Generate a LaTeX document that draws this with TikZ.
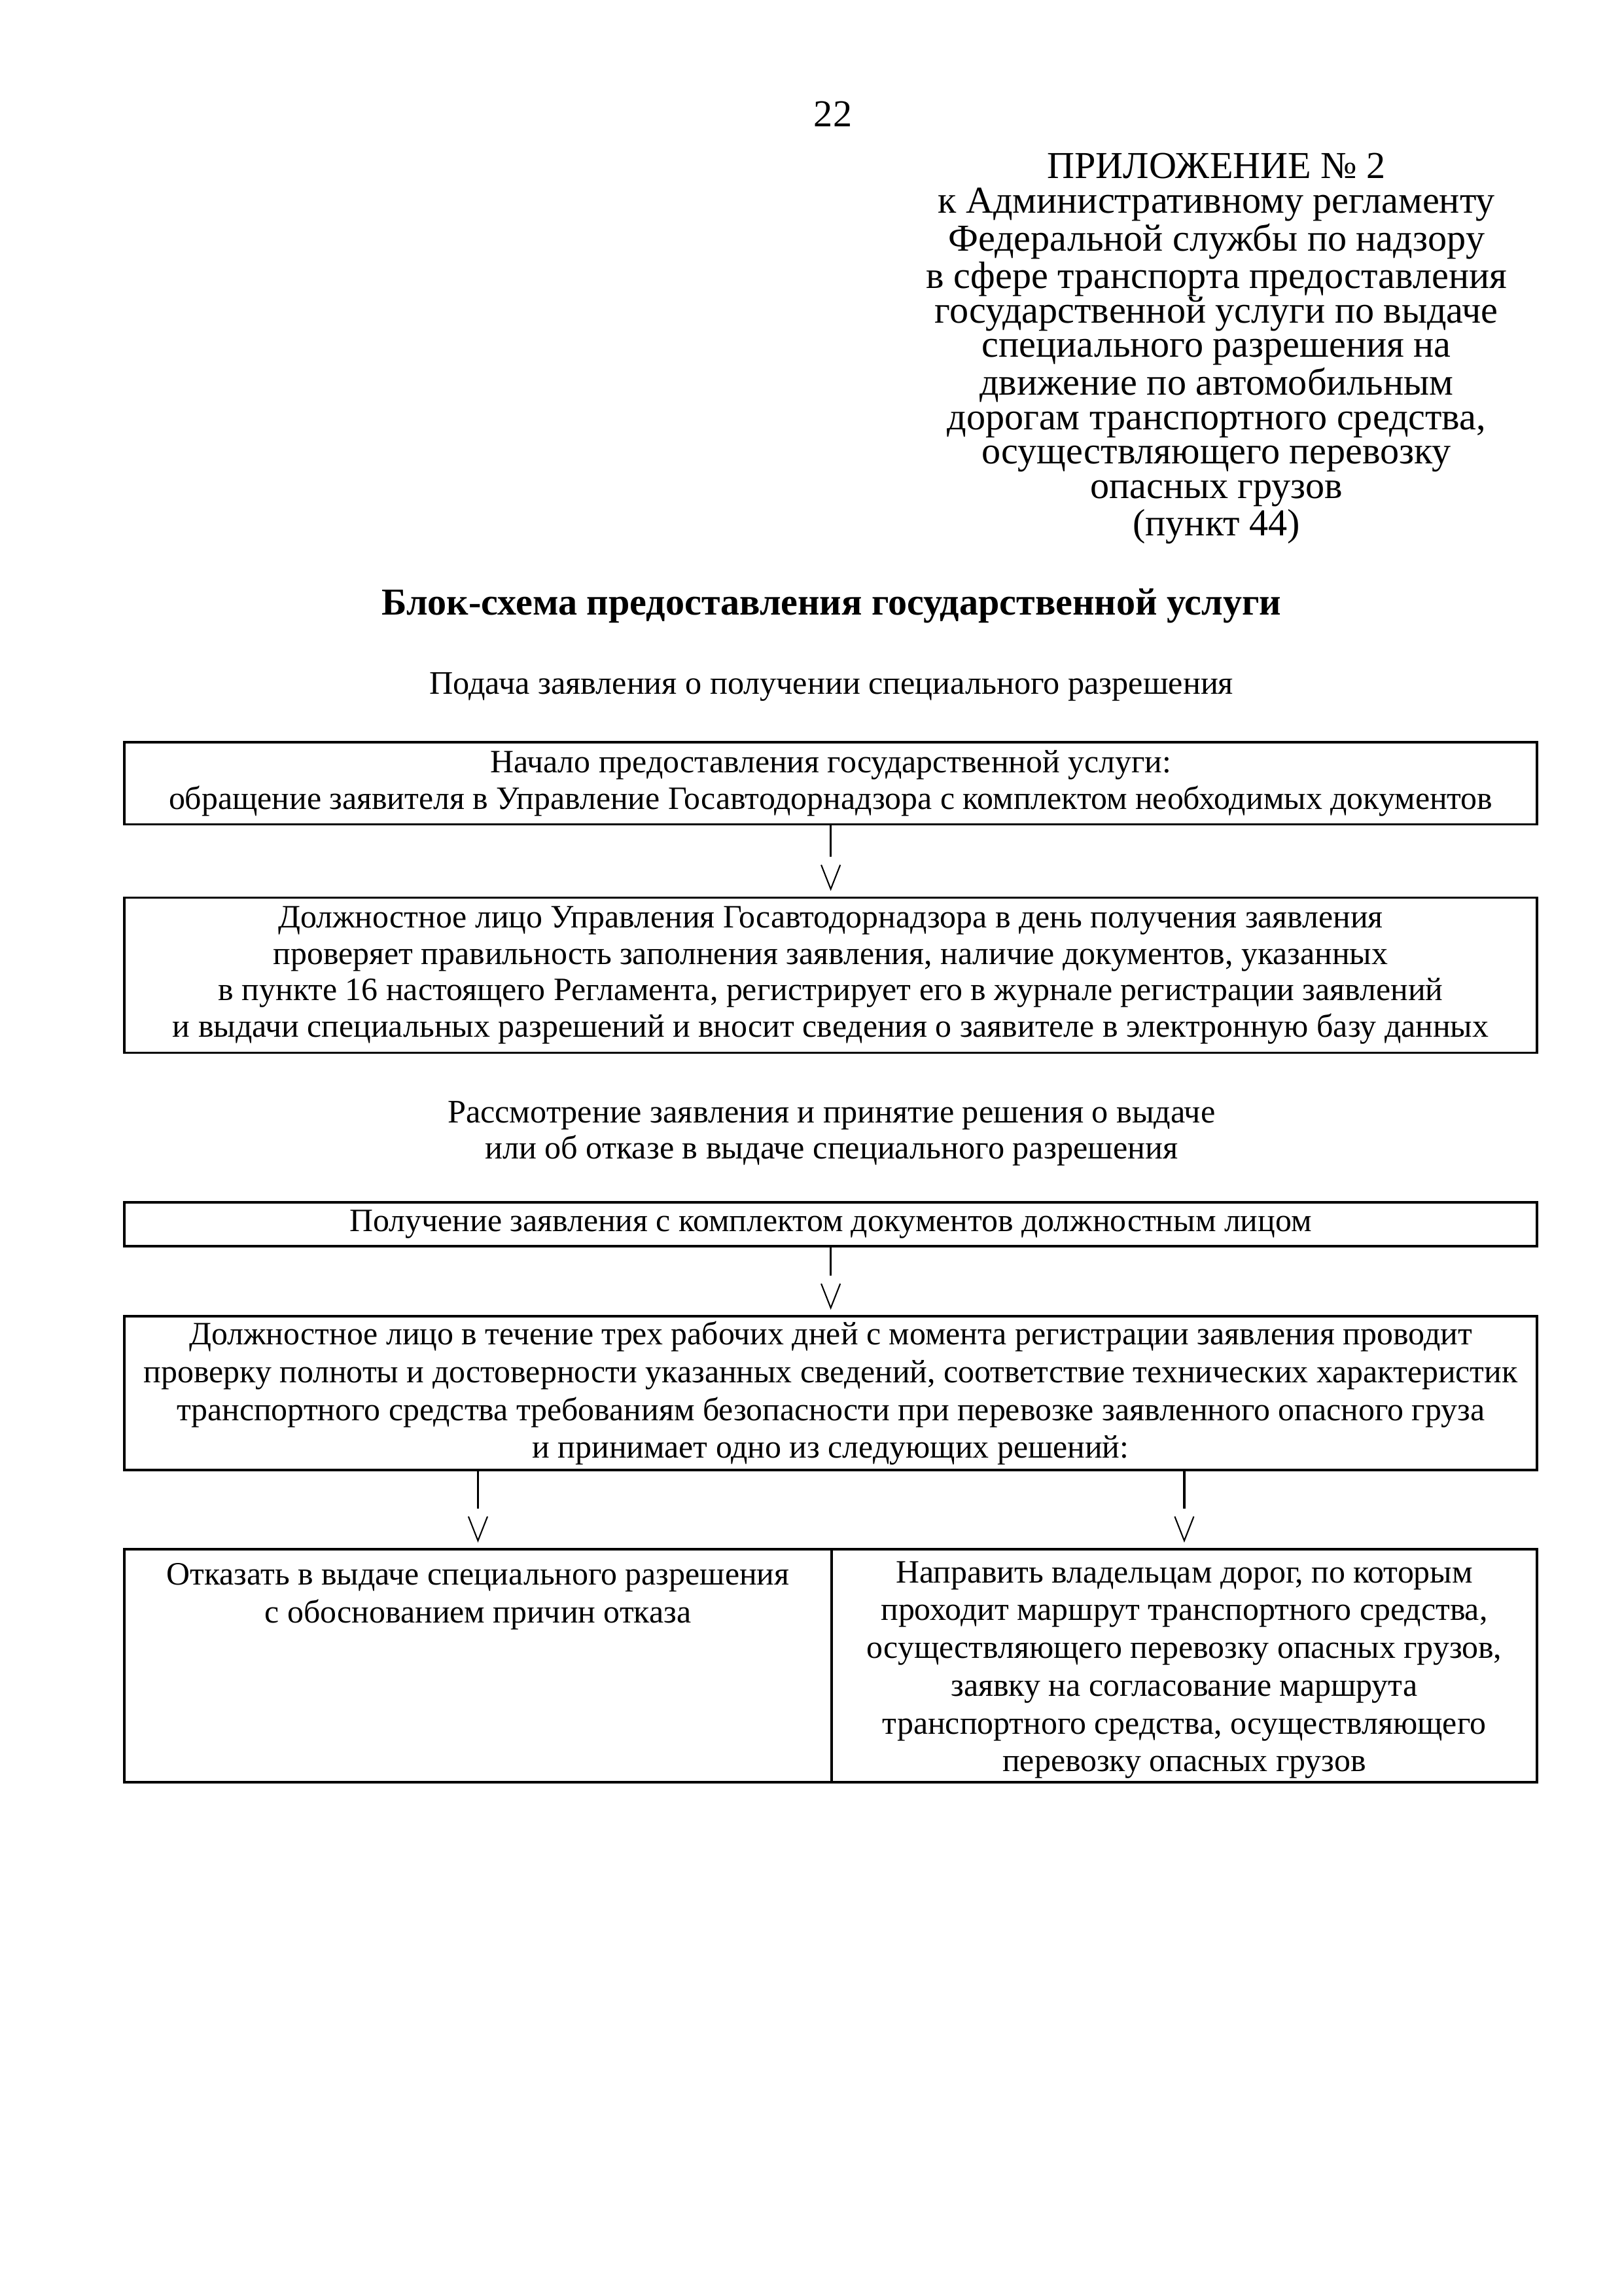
\documentclass[tikz,border=0pt]{standalone}
\usepackage{fontspec}
\setmainfont{Liberation Serif}
\usetikzlibrary{calc}
\tikzset{
  box/.style={draw, line width=0.9pt, minimum width=182.74mm, inner sep=0pt, align=center, font=\fontsize{12}{13.4}\selectfont},
  halfbox/.style={draw, line width=0.9pt, inner sep=0pt, minimum height=30.11mm},
  plain/.style={inner sep=0pt, align=center, font=\fontsize{12.1}{13.2}\selectfont},
  conn/.style={line width=0.8pt},
  vtip/.style={line width=0.5pt},
}
\newcommand\vlink[2]{%
  \draw[conn] (#1.south -| #2.north) -- ($(#2.north)+(0,-27)$);
  \draw[vtip] ($(#2.north)+(-6.5,-21.5)$) -- ($(#2.north)+(0,-5)$) -- ($(#2.north)+(6.5,-21.5)$);
}
\begin{document}
\begin{tikzpicture}[x=0.18936mm, y=-0.18936mm]
\useasboundingbox (0,0) rectangle (1109,1568);
\fill[white] (0,0) rectangle (1109,1568);

\node[inner sep=0pt, font=\fontsize{14}{14}\selectfont] (pnum) at (569,78) {22};

\node[inner sep=0pt, align=center, font=\fontsize{14}{12.65}\selectfont] (head) at (831,238) {%
ПРИЛОЖЕНИЕ № 2\\
к Административному регламенту\\
Федеральной службы по надзору\\
в сфере транспорта предоставления\\
государственной услуги по выдаче\\
специального разрешения на\\
движение по автомобильным\\
дорогам транспортного средства,\\
осуществляющего перевозку\\
опасных грузов\\
(пункт 44)};

\node[inner sep=0pt, font=\bfseries\fontsize{14}{14}\selectfont] (title) at (568,414) {Блок-схема предоставления государственной услуги};

\node[plain] (stage1) at (568,469) {Подача заявления о получении специального разрешения};

\node[box, minimum height=10.60mm] (b1) at (567.5,535) {Начало предоставления государственной услуги:\\
обращение заявителя в Управление Госавтодорнадзора с комплектом необходимых документов};

\node[box, minimum height=20.07mm] (b2) at (567.5,666) {Должностное лицо Управления Госавтодорнадзора в день получения заявления\\
проверяет правильность заполнения заявления, наличие документов, указанных\\
в пункте 16 настоящего Регламента, регистрирует его в журнале регистрации заявлений\\
и выдачи специальных разрешений и вносит сведения о заявителе в электронную базу данных};

\node[plain] (stage2) at (568,774) {Рассмотрение заявления и принятие решения о выдаче\\
или об отказе в выдаче специального разрешения};

\node[box, minimum height=5.68mm] (b3) at (567.5,836) {Получение заявления с комплектом документов должностным лицом};

\node[box, minimum height=19.88mm, font=\fontsize{12}{13.9}\selectfont] (b4) at (567.5,951.5) {Должностное лицо в течение трех рабочих дней с момента регистрации заявления проводит\\
проверку полноты и достоверности указанных сведений, соответствие технических характеристик\\
транспортного средства требованиям безопасности при перевозке заявленного опасного груза\\
и принимает одно из следующих решений:};

\node[halfbox, minimum width=91.46mm] (b5l) at (326.5,1137.5) {};
\node[halfbox, minimum width=91.27mm] (b5r) at (809,1137.5) {};

\node[plain, anchor=north, font=\fontsize{12}{13.9}\selectfont] (t5l) at ($(b5l.north)+(0,10)$) {Отказать в выдаче специального разрешения\\
с обоснованием причин отказа};

\node[plain, font=\fontsize{12}{13.9}\selectfont] (t5r) at ($(b5r.center)+(0,3)$) {Направить владельцам дорог, по которым\\
проходит маршрут транспортного средства,\\
осуществляющего перевозку опасных грузов,\\
заявку на согласование маршрута\\
транспортного средства, осуществляющего\\
перевозку опасных грузов};

\vlink{b1}{b2}
\vlink{b3}{b4}
\vlink{b4}{b5l}
\vlink{b4}{b5r}
\end{tikzpicture}
\end{document}
